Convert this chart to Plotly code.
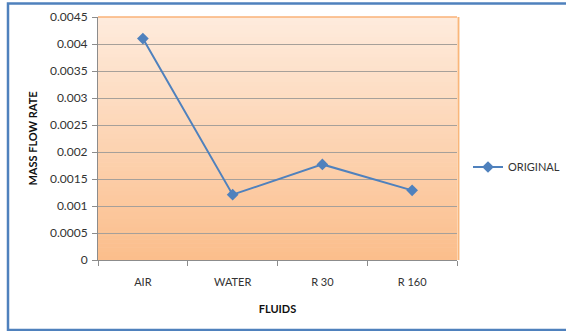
import plotly.graph_objects as go

# Data
fluids = ["AIR", "WATER", "R 30", "R 160"]
mass_flow = [0.0041, 0.00121, 0.00177, 0.00129]
y_ticks = [0, 0.0005, 0.001, 0.0015, 0.002, 0.0025, 0.003, 0.0035, 0.004, 0.0045]
y_tick_text = ["0", "0.0005", "0.001", "0.0015", "0.002", "0.0025", "0.003", "0.0035", "0.004", "0.0045"]

W, H = 566, 331
ML, MR, MT, MB = 98, 109, 17, 71
PW, PH = W - ML - MR, H - MT - MB

FONT = "Lato"
BLUE = "#4f81bd"
TXT = "#333333"

fig = go.Figure()
fig.add_trace(go.Scatter(
    x=fluids, y=mass_flow, mode="lines+markers", name="ORIGINAL",
    line=dict(color=BLUE, width=2),
    marker=dict(symbol="diamond", size=9, color=BLUE),
))

# Vertical gradient for the plot area background
shapes = []
top = (254, 235, 220)
bot = (251, 190, 140)
n = 60
for i in range(n):
    t = i / (n - 1)
    c = tuple(round(bot[k] + (top[k] - bot[k]) * t) for k in range(3))
    shapes.append(dict(
        type="rect", xref="x domain", yref="y domain",
        x0=0, x1=1, y0=i / n, y1=(i + 1) / n + 0.002,
        fillcolor="rgb(%d,%d,%d)" % c, line=dict(width=0), layer="below",
    ))
# plot area top border and right edge shadow
shapes.append(dict(type="line", xref="x domain", yref="y domain",
                   x0=0, x1=1, y0=1, y1=1, line=dict(color="#f79646", width=1.2)))
shapes.append(dict(type="line", xref="x domain", yref="y domain",
                   x0=1.004, x1=1.004, y0=0, y1=1, line=dict(color="#f9b67a", width=2)))

# outer chart frame
def px_x(v):
    return (v - ML) / PW

def px_y(v):
    return (H - MB - v) / PH

shapes.append(dict(type="rect", xref="paper", yref="paper",
                   x0=px_x(8), x1=px_x(600), y0=px_y(330), y1=px_y(3.5),
                   line=dict(color=BLUE, width=2.5), fillcolor="rgba(0,0,0,0)"))

fig.update_layout(
    width=W, height=H,
    margin=dict(l=ML, r=MR, t=MT, b=MB, autoexpand=False),
    paper_bgcolor="white",
    plot_bgcolor="#fde0c8",
    shapes=shapes,
    font=dict(family=FONT, size=12, color=TXT),
    showlegend=True,
    legend=dict(x=px_x(468), y=px_y(167), xanchor="left", yanchor="middle",
                font=dict(family=FONT, size=11, color=TXT),
                bgcolor="rgba(0,0,0,0)", itemwidth=30),
    xaxis=dict(
        type="category", tickson="boundaries",
        ticks="outside", ticklen=5, tickcolor="#8c8c8c",
        showline=True, linecolor="#8c8c8c", linewidth=1,
        showgrid=False, tickfont=dict(size=11, color=TXT),
        ticklabelstandoff=12,
        title=dict(text="<b>FLUIDS</b>", font=dict(size=11, color="#101010"), standoff=18),
        range=[-0.5, 3.5],
    ),
    yaxis=dict(
        range=[0, 0.0045], tickvals=y_ticks, ticktext=y_tick_text,
        ticks="outside", ticklen=5, tickcolor="#8c8c8c",
        showline=True, linecolor="#8c8c8c", linewidth=1,
        showgrid=True, gridcolor="#a6a09a", gridwidth=1,
        zeroline=False, tickfont=dict(size=12, color=TXT),
        ticklabelstandoff=2,
        title=dict(text="<b>MASS FLOW RATE</b>", font=dict(size=11, color="#101010"), standoff=10),
    ),
)

fig.write_html("out.html")
